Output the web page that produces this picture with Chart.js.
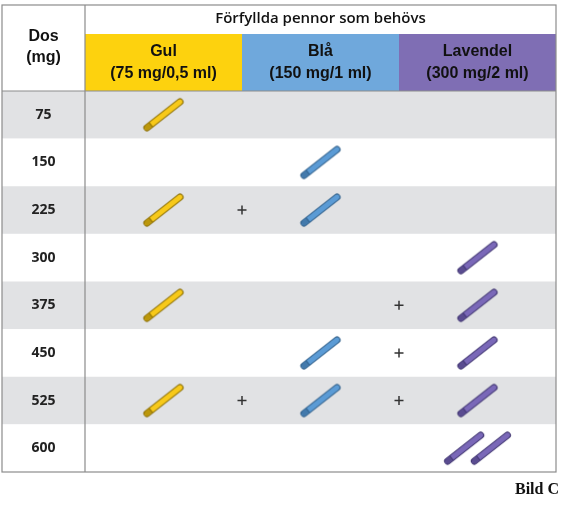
<!DOCTYPE html>
<html>
<head>
<meta charset="utf-8">
<script src="https://cdn.jsdelivr.net/npm/chart.js@4"></script>
<style>
  body { margin: 0; background: #fff; }
  canvas { display: block; }
</style>
</head>
<body>
<canvas id="chart" width="562" height="508"></canvas>
<script>
// Data
const doses = ['75', '150', '225', '300', '375', '450', '525', '600'];
const gulPens = [1, 0, 1, 0, 1, 0, 1, 0];
const blaPens = [0, 1, 1, 0, 0, 1, 1, 0];
const lavPens = [0, 0, 0, 1, 1, 1, 1, 2];
const columns = [
    { name: 'Gul', sub: '(75 mg/0,5 ml)' },
    { name: 'Blå', sub: '(150 mg/1 ml)' },
    { name: 'Lavendel', sub: '(300 mg/2 ml)' }
];
const title = 'Förfyllda pennor som behövs';

const colFill = ['#fdd20e', '#6fa8dc', '#7f6eb4'];
const penFill = ['#f7c91a', '#5b9bd5', '#7a68b8'];
const penDark = ['#8a6d00', '#2f5f8a', '#3f3470'];

function makePen(i) {
    const c = document.createElement('canvas');
    c.width = 52; c.height = 42;
    const g = c.getContext('2d');
    g.translate(26, 21);
    g.rotate(-38 * Math.PI / 180);
    const L = 48, W = 6;
    g.fillStyle = penFill[i];
    g.strokeStyle = penDark[i];
    g.lineWidth = 1;
    g.beginPath();
    g.roundRect(-L / 2, -W / 2, L, W, 3);
    g.fill();
    g.stroke();
    g.fillStyle = penDark[i];
    g.globalAlpha = 0.55;
    g.fillRect(-L / 2 + 1, -W / 2 + 0.5, 7, W - 1);
    g.globalAlpha = 1;
    g.beginPath();
    g.moveTo(-L / 2 + 8, -W / 2);
    g.lineTo(-L / 2 + 8, W / 2);
    g.stroke();
    return c;
}
const pens = [0, 1, 2].map(makePen);

function penPoints(counts, col) {
    const pts = [];
    counts.forEach((n, r) => {
        for (let k = 0; k < n; k++) {
            const off = n > 1 ? (k - (n - 1) / 2) * 0.17 : 0;
            pts.push({ x: col + 0.5 + off, y: r + 0.5 });
        }
    });
    return pts;
}

function plusPoints() {
    const pts = [];
    doses.forEach((d, r) => {
        if (gulPens[r] && blaPens[r]) pts.push({ x: 1, y: r + 0.5 });
        if ((gulPens[r] || blaPens[r]) && lavPens[r]) pts.push({ x: 2, y: r + 0.5 });
    });
    return pts;
}

const tablePlugin = {
    id: 'table',
    beforeDraw(chart) {
        const ctx = chart.ctx;
        const xs = chart.scales.x, ys = chart.scales.y;
        const L = 2, R = xs.getPixelForValue(3), T = 5, B = ys.getPixelForValue(doses.length);
        const x0 = xs.getPixelForValue(0);
        ctx.save();
        // row shading
        doses.forEach((d, r) => {
            const y1 = ys.getPixelForValue(r), y2 = ys.getPixelForValue(r + 1);
            ctx.fillStyle = r % 2 === 0 ? '#e1e2e4' : '#ffffff';
            ctx.fillRect(L, y1, R - L, y2 - y1);
            ctx.fillStyle = '#222';
            ctx.font = 'bold 14px "Noto Sans"';
            ctx.textAlign = 'center';
            ctx.textBaseline = 'middle';
            ctx.fillText(d, (L + x0) / 2, (y1 + y2) / 2);
        });
        // header colour cells
        const hT = 34, hB = ys.getPixelForValue(0);
        columns.forEach((c, i) => {
            const a = xs.getPixelForValue(i), b = xs.getPixelForValue(i + 1);
            ctx.fillStyle = colFill[i];
            ctx.fillRect(a, hT, b - a, hB - hT);
            ctx.fillStyle = '#111';
            ctx.font = 'bold 16px "Liberation Sans"';
            ctx.textAlign = 'center';
            ctx.textBaseline = 'middle';
            ctx.fillText(c.name, (a + b) / 2, 52);
            ctx.fillText(c.sub, (a + b) / 2, 74);
        });
        ctx.fillStyle = '#111';
        ctx.font = '600 15px "Open Sans"';
        ctx.fillText(title, (x0 + R) / 2, 19);
        ctx.font = 'bold 16px "Liberation Sans"';
        ctx.fillText('Dos', (L + x0) / 2, 37);
        ctx.fillText('(mg)', (L + x0) / 2, 58);
        // lines
        ctx.strokeStyle = '#8c8c8c';
        ctx.lineWidth = 1.2;
        ctx.strokeRect(L, T, R - L, B - T);
        ctx.beginPath();
        ctx.moveTo(x0, T); ctx.lineTo(x0, B);
        ctx.moveTo(L, hB); ctx.lineTo(R, hB);
        ctx.stroke();
        ctx.font = 'bold 16px "Liberation Serif"';
        ctx.textAlign = 'right';
        ctx.fillStyle = '#111';
        ctx.fillText('Bild C', 559, 490);
        ctx.restore();
    }
};

new Chart(document.getElementById('chart'), {
    type: 'scatter',
    data: {
        datasets: [
            { label: 'Gul', data: penPoints(gulPens, 0), pointStyle: pens[0] },
            { label: 'Blå', data: penPoints(blaPens, 1), pointStyle: pens[1] },
            { label: 'Lavendel', data: penPoints(lavPens, 2), pointStyle: pens[2] },
            { label: '+', data: plusPoints(), pointStyle: 'cross', radius: 4.5, borderColor: '#333', borderWidth: 1.5 }
        ]
    },
    options: {
        responsive: false,
        animation: false,
        events: [],
        layout: { padding: { left: 85, right: 5, top: 91, bottom: 36 } },
        scales: {
            x: { type: 'linear', min: 0, max: 3, display: false },
            y: { type: 'linear', min: 0, max: doses.length, reverse: true, display: false }
        },
        plugins: { legend: { display: false }, tooltip: { enabled: false } }
    },
    plugins: [tablePlugin]
});
</script>
</body>
</html>
